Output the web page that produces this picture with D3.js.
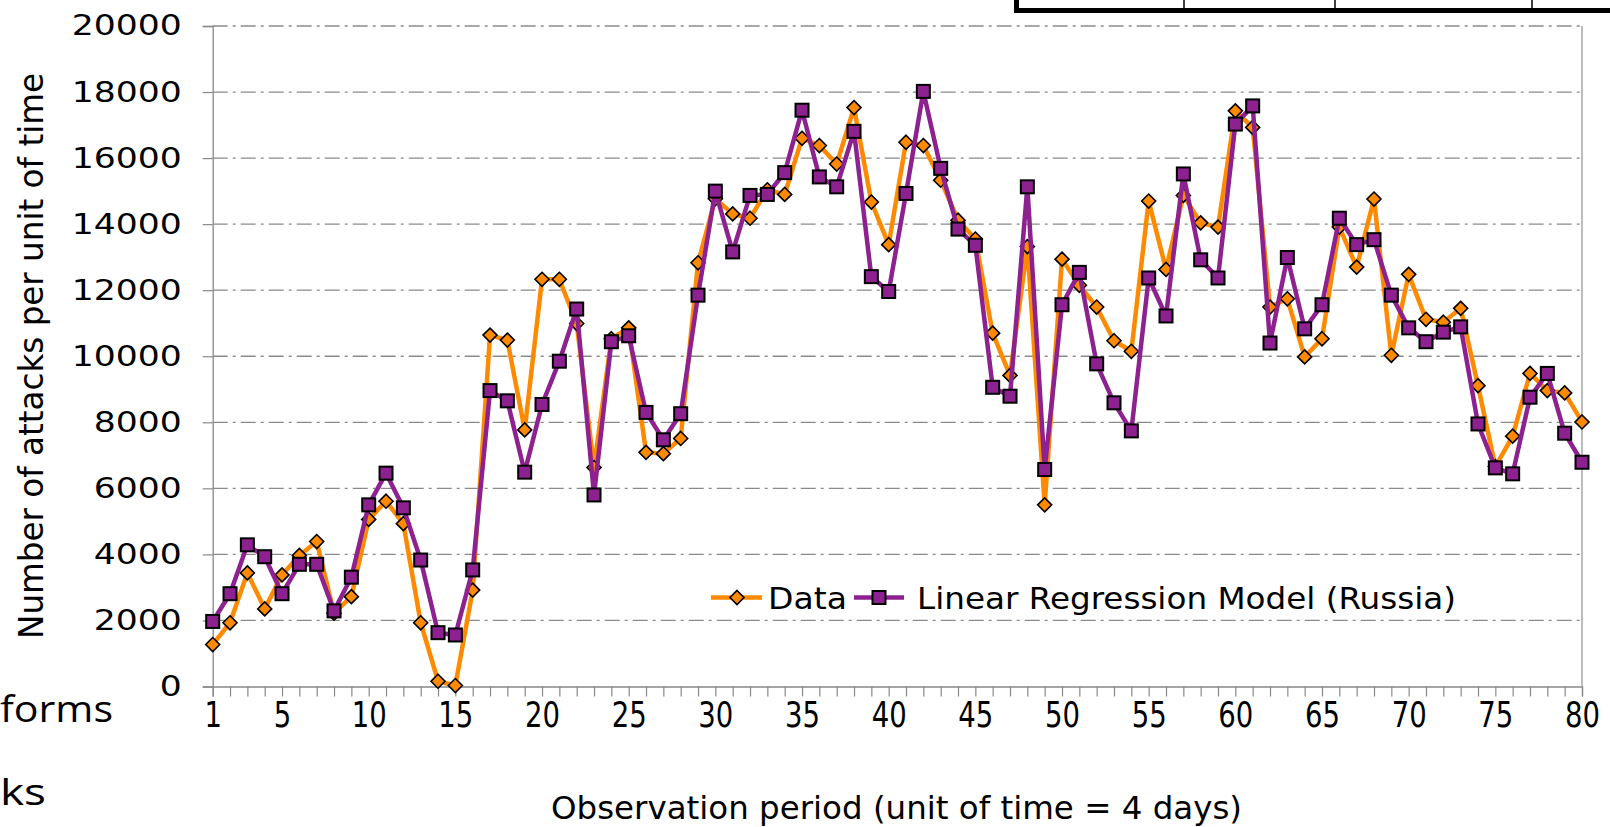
<!DOCTYPE html>
<html>
<head>
    <title>Attacks - Linear Regression Model</title>
    <script type='text/javascript' src='https://cdn.jsdelivr.net/npm/d3@7/dist/d3.min.js'></script>
    <style>
        body{
            margin:0;
            background-color:#ffffff;
        }
        text {
            font-family:'DejaVu Sans', sans-serif;
            fill:#000;
        }
    </style>
</head>
<body>

<svg id="svg" width="1610" height="827"></svg>

<script>

// observation periods 1..80
var periods = d3.range(1, 81);
var xTickLabels = [1, 5, 10, 15, 20, 25, 30, 35, 40, 45, 50, 55, 60, 65, 70, 75, 80];
var yTicks = [0, 2000, 4000, 6000, 8000, 10000, 12000, 14000, 16000, 18000, 20000];

var dataValues = [
    1270, 1930, 3440, 2350, 3380, 3970, 4390, 2220, 2720, 5060,
    5610, 4930, 1930, 160, 30, 2920, 10640, 10490, 7770, 12330,
    12330, 10990, 6630, 10530, 10860, 7090, 7050, 7510, 12830, 14770,
    14310, 14180, 15040, 14900, 16600, 16380, 15820, 17530, 14670, 13380,
    16480, 16380, 15330, 14120, 13550, 10700, 9420, 13320, 5500, 12940,
    12150, 11490, 10470, 10150, 14700, 12630, 14870, 14040, 13910, 17430,
    16930, 11490, 11740, 9980, 10530, 13910, 12700, 14760, 10030, 12480,
    11120, 11030, 11450, 9110, 6660, 7580, 9480, 8960, 8890, 8010
];

var modelValues = [
    1970, 2810, 4290, 3930, 2810, 3700, 3700, 2290, 3310, 5500,
    6460, 5410, 3830, 1630, 1560, 3530, 8960, 8650, 6490, 8540,
    9850, 11430, 5800, 10440, 10620, 8300, 7470, 8260, 11850, 15000,
    13160, 14870, 14900, 15560, 17450, 15430, 15130, 16810, 12410, 11960,
    14930, 18020, 15690, 13850, 13360, 9060, 8790, 15130, 6570, 11560,
    12540, 9770, 8590, 7740, 12370, 11220, 15520, 12920, 12370, 17030,
    17580, 10400, 12990, 10830, 11560, 14180, 13380, 13530, 11850, 10860,
    10440, 10730, 10890, 7950, 6620, 6440, 8760, 9480, 7670, 6790
];

var seriesNames = ['Data', 'Linear Regression Model (Russia)'];

var orange = '#ff8a00';
var purple = '#8e2190';

var svg = d3.select('#svg');

var x = d3.scaleLinear().domain([1, 80]).range([212.7, 1582]);
var y = d3.scaleLinear().domain([0, 20000]).range([686.5, 26]);

// bits of the slide that show around the chart
var table = svg.append('g');
table.append('rect').attr('x', 1014).attr('y', 8).attr('width', 596).attr('height', 5).attr('fill', '#000');
table.append('rect').attr('x', 1014).attr('y', 0).attr('width', 5).attr('height', 13).attr('fill', '#000');
[1184, 1335, 1532].forEach(function(vx){
    table.append('line').attr('x1', vx).attr('x2', vx).attr('y1', 0).attr('y2', 8)
        .attr('stroke', '#000').attr('stroke-width', 1.5);
});
svg.append('text').attr('x', 0).attr('y', 722)
    .style('font-family', "'Open Sans', sans-serif").style('font-size', '36px')
    .attr('textLength', 113).attr('lengthAdjust', 'spacingAndGlyphs').text('forms');
svg.append('text').attr('x', 0).attr('y', 805)
    .style('font-family', "'Open Sans', sans-serif").style('font-size', '36px')
    .attr('textLength', 46).attr('lengthAdjust', 'spacingAndGlyphs').text('ks');

// gridlines
svg.append('g').selectAll('line.grid').data(yTicks.slice(1)).enter().append('line')
    .attr('class', 'grid')
    .attr('x1', x(1)).attr('x2', x(80))
    .attr('y1', function(d){ return y(d); }).attr('y2', function(d){ return y(d); })
    .attr('stroke', '#8a8a8a').attr('stroke-width', 1.3)
    .attr('stroke-dasharray', '15,5,3,5');

// right border
svg.append('line').attr('x1', x(80)).attr('x2', x(80)).attr('y1', y(20000)).attr('y2', y(0))
    .attr('stroke', '#999').attr('stroke-width', 1.3);

// axes
var xAxis = d3.axisBottom(x).tickValues(periods).tickSize(10).tickPadding(6)
    .tickFormat(function(d){ return xTickLabels.indexOf(d) >= 0 ? d : ''; });
var gx = svg.append('g').attr('transform', 'translate(0,' + y(0) + ')').call(xAxis);
gx.select('.domain').attr('stroke', '#888').attr('stroke-width', 1.3);
gx.selectAll('.tick line').attr('stroke', '#888').attr('stroke-width', 1.2);
gx.selectAll('.tick text')
    .style('font-size', '35px')
    .attr('textLength', function(d){ return xTickLabels.indexOf(d) >= 0 ? String(d).length * 17.5 : null; })
    .attr('lengthAdjust', 'spacingAndGlyphs');

var yAxis = d3.axisLeft(y).tickValues(yTicks).tickSize(10).tickPadding(21).tickFormat(d3.format('d'));
var gy = svg.append('g').attr('transform', 'translate(' + x(1) + ',0)').call(yAxis);
gy.select('.domain').attr('stroke', '#888').attr('stroke-width', 1.3);
gy.selectAll('.tick line').attr('stroke', '#888').attr('stroke-width', 1.2);
gy.selectAll('.tick text')
    .style('font-size', '28px')
    .attr('textLength', function(d){ return String(d).length * 22; })
    .attr('lengthAdjust', 'spacingAndGlyphs');

// axis titles
svg.append('text')
    .attr('x', 896.5).attr('y', 819).attr('text-anchor', 'middle')
    .style('font-size', '32px')
    .attr('textLength', 691).attr('lengthAdjust', 'spacingAndGlyphs')
    .text('Observation period (unit of time = 4 days)');

svg.append('text')
    .attr('transform', 'translate(43,356) rotate(-90)')
    .attr('text-anchor', 'middle')
    .style('font-size', '33px')
    .attr('textLength', 566).attr('lengthAdjust', 'spacingAndGlyphs')
    .text('Number of attacks per unit of time');

// series
var line = d3.line()
    .x(function(d, i){ return x(periods[i]); })
    .y(function(d){ return y(d); });

var diamond = 'M0,-7L7,0L0,7L-7,0Z';

svg.append('path').datum(dataValues).attr('d', line)
    .attr('fill', 'none').attr('stroke', orange).attr('stroke-width', 4.5).attr('stroke-linejoin', 'round');
svg.append('g').selectAll('path.dm').data(dataValues).enter().append('path')
    .attr('class', 'dm')
    .attr('d', diamond)
    .attr('transform', function(d, i){ return 'translate(' + x(periods[i]) + ',' + y(d) + ')'; })
    .attr('fill', orange).attr('stroke', '#000').attr('stroke-width', 1.6);

svg.append('path').datum(modelValues).attr('d', line)
    .attr('fill', 'none').attr('stroke', purple).attr('stroke-width', 4.5).attr('stroke-linejoin', 'round');
svg.append('g').selectAll('rect.sq').data(modelValues).enter().append('rect')
    .attr('class', 'sq')
    .attr('x', function(d, i){ return x(periods[i]) - 6.5; })
    .attr('y', function(d){ return y(d) - 6.5; })
    .attr('width', 13).attr('height', 13)
    .attr('fill', purple).attr('stroke', '#000').attr('stroke-width', 2);

// legend
var legend = svg.append('g');
legend.append('line').attr('x1', 711).attr('x2', 762).attr('y1', 597.5).attr('y2', 597.5)
    .attr('stroke', orange).attr('stroke-width', 4.5);
legend.append('path').attr('d', diamond).attr('transform', 'translate(737,597.5)')
    .attr('fill', orange).attr('stroke', '#000').attr('stroke-width', 1.6);
legend.append('text').attr('x', 768).attr('y', 609).style('font-size', '30px')
    .attr('textLength', 79).attr('lengthAdjust', 'spacingAndGlyphs').text(seriesNames[0]);

legend.append('line').attr('x1', 854).attr('x2', 904).attr('y1', 597.5).attr('y2', 597.5)
    .attr('stroke', purple).attr('stroke-width', 4.5);
legend.append('rect').attr('x', 872.5).attr('y', 591).attr('width', 13).attr('height', 13)
    .attr('fill', purple).attr('stroke', '#000').attr('stroke-width', 2);
legend.append('text').attr('x', 917).attr('y', 609).style('font-size', '30px')
    .attr('textLength', 539).attr('lengthAdjust', 'spacingAndGlyphs').text(seriesNames[1]);

</script>
</body>
</html>
